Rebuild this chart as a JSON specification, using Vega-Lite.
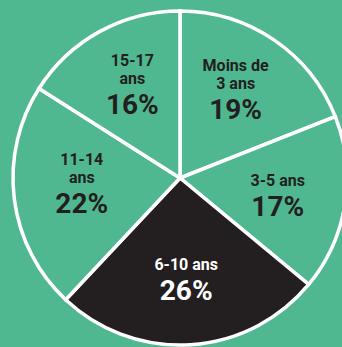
{
  "$schema": "https://vega.github.io/schema/vega-lite/v6.json",
  "autosize": "none",
  "padding": 0,
  "width": 360,
  "height": 356,
  "background": "#50b891",
  "view": {"stroke": null},
  "data": {
    "values": [
      {"k": 1, "group": "Moins de 3 ans", "line1": "Moins de", "line2": "3 ans", "pct": 19, "pctText": "19%"},
      {"k": 2, "group": "3-5 ans", "line1": "", "line2": "3-5 ans", "pct": 17, "pctText": "17%"},
      {"k": 3, "group": "6-10 ans", "line1": "", "line2": "6-10 ans", "pct": 26, "pctText": "26%"},
      {"k": 4, "group": "11-14 ans", "line1": "11-14", "line2": "ans", "pct": 22, "pctText": "22%"},
      {"k": 5, "group": "15-17 ans", "line1": "15-17", "line2": "ans", "pct": 16, "pctText": "16%"}
    ]
  },
  "encoding": {
    "theta": {"field": "pct", "type": "quantitative", "stack": true},
    "order": {"field": "k", "type": "quantitative", "sort": "ascending"},
    "color": {
      "condition": {"test": "datum.group === '6-10 ans'", "value": "#ffffff"},
      "value": "#231f20"
    }
  },
  "layer": [
    {
      "mark": {"type": "arc", "radius": 167, "stroke": "#ffffff", "strokeWidth": 3.5},
      "encoding": {
        "color": {
          "condition": {"test": "datum.group === '6-10 ans'", "value": "#231f20"},
          "value": "#50b891"
        }
      }
    },
    {
      "mark": {"type": "text", "radius": 99, "baseline": "middle", "dy": -30, "font": "Roboto", "fontWeight": "bold", "fontSize": 16},
      "encoding": {"text": {"field": "line1"}}
    },
    {
      "mark": {"type": "text", "radius": 99, "baseline": "middle", "dy": -12, "font": "Roboto", "fontWeight": "bold", "fontSize": 16},
      "encoding": {"text": {"field": "line2"}}
    },
    {
      "mark": {"type": "text", "radius": 99, "baseline": "middle", "dy": 15, "font": "Roboto", "fontWeight": "bold", "fontSize": 28},
      "encoding": {"text": {"field": "pctText"}}
    }
  ]
}
